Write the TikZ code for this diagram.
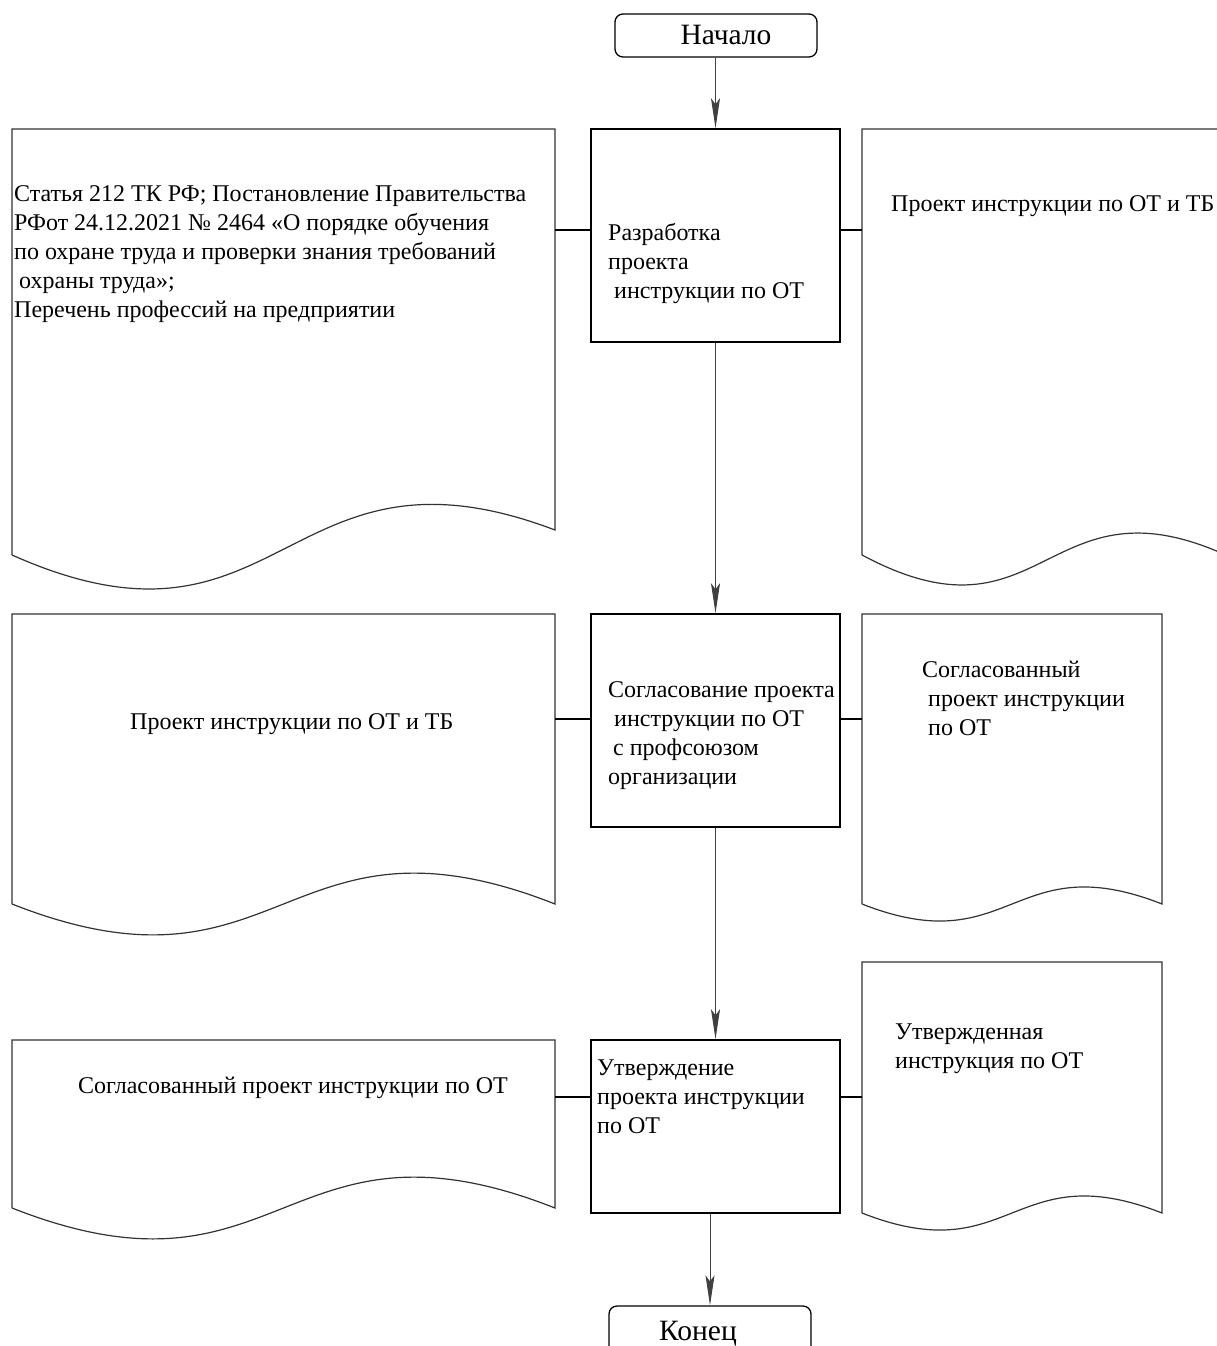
\documentclass[tikz,border=0pt]{standalone}
\usepackage{fontspec}
\setmainfont{Liberation Serif}
\usetikzlibrary{arrows.meta}
\begin{document}
\begin{tikzpicture}[x=1pt,y=-1pt,
  docline/.style={draw=black!80,line width=1.2pt},
  procbox/.style={draw=black,line width=1.5pt,rectangle,minimum width=249pt,inner sep=0pt},
  termbox/.style={draw=black,line width=1.3pt,rectangle,rounded corners=8pt,minimum width=202pt,inner sep=0pt},
  txt/.style={font=\fontsize{24}{29}\selectfont,align=left,anchor=base west,inner sep=0pt},
  bigtxt/.style={font=\fontsize{29.5}{34}\selectfont,inner sep=0pt,anchor=base},
  flow/.style={draw=black!75,line width=1pt,-{Stealth[length=30pt,width=9pt,inset=6pt]}},
  link/.style={draw=black,line width=1.3pt}]
\useasboundingbox (0,0) rectangle (1216,1346);
\fill[white] (0,0) rectangle (1216,1346);

% terminals
\node[termbox,minimum height=43pt] (start) at (716,35.5) {};
\node[bigtxt] (starttxt) at (726,45) {Начало};
\node[termbox,minimum height=50pt] (stop) at (710,1331) {};
\node[bigtxt] (stoptxt) at (698,1340) {Конец};

% process boxes
\node[procbox,minimum height=213pt] (b1) at (715.5,235.5) {};
\node[procbox,minimum height=213pt] (b2) at (715.5,720.5) {};
\node[procbox,minimum height=173pt] (b3) at (715.5,1126.5) {};

% text blocks: anchor is the baseline of the LAST line
\node[txt] (b1t) at (608,298) {Разработка\\проекта\\\hspace{6pt}инструкции по ОТ};
\node[txt] (b2t) at (608,784) {Согласование проекта\\\hspace{6pt}инструкции по ОТ\\\hspace{5pt}с профсоюзом\\организации};
\node[txt] (b3t) at (597,1133) {Утверждение\\проекта инструкции\\по ОТ};

% documents
\draw[docline] (12,555) -- (12,129) -- (555,129) -- (555,530)
  .. controls (283.5,427) and (283.5,676) .. (12,555);
\draw[docline] (862,555) -- (862,129) -- (1228,129) -- (1228,556)
  .. controls (1045,472) and (1045,653) .. (862,555);
\draw[docline] (12,904) -- (12,614) -- (555,614) -- (555,904)
  .. controls (283.5,797) and (283.5,1011) .. (12,904);
\draw[docline] (862,904) -- (862,614) -- (1162,614) -- (1162,904)
  .. controls (1012,845) and (1012,963) .. (862,904);
\draw[docline] (12,1208) -- (12,1040) -- (555,1040) -- (555,1208)
  .. controls (283.5,1101) and (283.5,1315) .. (12,1208);
\draw[docline] (862,1213) -- (862,962) -- (1162,962) -- (1162,1213)
  .. controls (1012,1154) and (1012,1272) .. (862,1213);

\coordinate (l1) at (555,230);
\coordinate (r1) at (862,230);
\coordinate (l2) at (555,719);
\coordinate (r2) at (862,719);
\coordinate (l3) at (555,1097);
\coordinate (r3) at (862,1097);

\node[txt] (l1t) at (14,317) {Статья 212 ТК РФ; Постановление Правительства\\РФот 24.12.2021 № 2464 «О порядке обучения\\по охране труда и проверки знания требований\\\hspace{5pt}охраны труда»;\\Перечень профессий на предприятии};
\node[txt] (r1t) at (891,211) {Проект инструкции по ОТ и ТБ};
\node[txt] (l2t) at (130,729) {Проект инструкции по ОТ и ТБ};
\node[txt] (r2t) at (922,735) {Согласованный\\\hspace{6pt}проект инструкции\\\hspace{6pt}по ОТ};
\node[txt] (l3t) at (78,1093) {Согласованный проект инструкции по ОТ};
\node[txt] (r3t) at (895,1068) {Утвержденная\\инструкция по ОТ};

% connectors
\draw[link] (l1) -- (b1.west |- l1);
\draw[link] (b1.east |- r1) -- (r1);
\draw[link] (l2) -- (b2.west |- l2);
\draw[link] (b2.east |- r2) -- (r2);
\draw[link] (l3) -- (b3.west |- l3);
\draw[link] (b3.east |- r3) -- (r3);

\draw[flow] (start.south -| b1.north) -- (b1.north);
\draw[flow] (b1.south) -- (b2.north);
\draw[flow] (b2.south) -- (b3.north);
\draw[flow] (b3.south -| stop.north) -- (stop.north);
\end{tikzpicture}
\end{document}
